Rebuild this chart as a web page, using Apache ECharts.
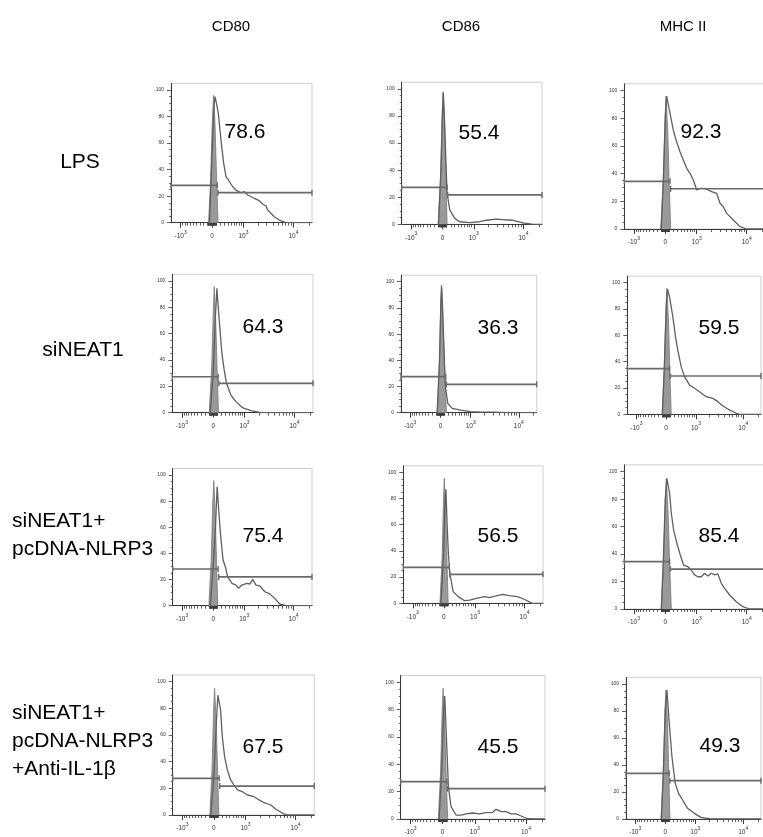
<!DOCTYPE html>
<html><head><meta charset="utf-8">
<script src="https://cdn.jsdelivr.net/npm/echarts@6/dist/echarts.min.js"></script>
<style>html,body{margin:0;padding:0;background:#fff}#c{width:763px;height:837px}</style>
</head><body><div id="c"></div>
<script>
// ---------------- DATA ----------------
const COLUMNS = ['CD80', 'CD86', 'MHC II'];
const ROWS = ['LPS', 'siNEAT1', 'siNEAT1+\npcDNA-NLRP3', 'siNEAT1+\npcDNA-NLRP3\n+Anti-IL-1β'];
const PCT = [[78.6, 55.4, 92.3], [64.3, 36.3, 59.5], [75.4, 56.5, 85.4], [67.5, 45.5, 49.3]];

// gate levels (% of max) and gate split position (display units)
const GATE_LEFT_Y = [[28.2, 27.3, 34.5], [27.3, 27.5, 34.7], [28.1, 27.5, 34.5], [27.5, 27.3, 33.8]];
const GATE_RIGHT_Y = [[22.6, 21.7, 29.1], [22.3, 21.7, 29.1], [22.0, 22.1, 29.1], [21.7, 22.2, 28.4]];
const GATE_X = [[5.3, 4.6, 4.7], [5.0, 5.5, 3.5], [5.0, 5.3, 4.3], [5.3, 4.2, 4.2]];

// axis tick labels
const X_MAJOR = [-1000, 0, 1000, 10000];
const X_TICK_LABELS = [{b: '-10', e: '3'}, {b: '0', e: ''}, {b: '10', e: '3'}, {b: '10', e: '4'}];
const Y_TICKS = [0, 20, 40, 60, 80, 100];

// histograms: [display position, % of max]
const LPS_CD80 = [[-2.5,0],[0,50],[2,88],[3,95],[4.5,90],[6.3,82.4],[8,69.8],[9.7,57.3],[11.7,44.7],[14,34.7],[16.3,32.2],[20.7,27.1],[24,24.6],[25.7,25.9],[29,22.6],[32.3,23.4],[35.7,20.9],[42.3,18.4],[47.3,16.6],[50.7,14.1],[54,12.6],[55.7,9.6],[59,7.1],[62.3,4.5],[67.3,2.0],[74,0],[100,0]];
const LPS_CD86 = [[-4,0],[-1.5,40],[0,82],[0.8,97],[2,78],[3.5,45],[4.6,23],[7.3,10.6],[12.3,4.4],[17.3,1.9],[27.3,1.2],[37.3,1.9],[44,3.0],[54,3.8],[60.6,3.5],[70,3.0],[76,1.9],[82,0.8],[90,0.2],[100,0]];
const LPS_MHC = [[-4,0],[-2,35],[0,80],[1.3,96],[3,90],[4.7,83.7],[8,71.6],[10.7,64.4],[13,59.5],[14.7,55.9],[18,49.9],[21.4,43.9],[24.7,40.3],[28,35.4],[31.4,28.2],[34.7,29.4],[39.7,29.4],[43,28.2],[46.4,27],[51.4,25.8],[54.7,18.6],[58,16.1],[61.4,11.3],[68,6.5],[74.7,1.7],[81.4,0],[100,0]];
const SI_CD80 = [[-3,0],[0,30],[2,70],[3.7,94.4],[6,70.4],[8.7,45],[11,32.4],[13.3,22.3],[17.7,13.4],[22.7,8.4],[29.3,3.8],[37.7,1.5],[47.7,0],[100,0]];
const SI_CD86 = [[-3.4,0],[-1,40],[0.5,85],[1.2,96],[2.5,75],[4,40],[5.2,19.8],[7.6,7.1],[12.2,3.3],[20.8,2.0],[31.2,0.8],[41.6,0.5],[55,0.5],[70,0],[100,0]];
const SI_MHC = [[-4,0],[-2,35],[0,80],[1.4,95],[3.5,89.4],[7,74.2],[9.8,59],[12.2,48.9],[15.8,36.2],[19.3,28.6],[24.6,22.3],[29.9,19.8],[35.1,17.2],[42.2,13.4],[49.2,12.1],[54.5,9.6],[59.8,6.3],[66.8,3.3],[73.8,0.8],[77.3,0],[100,0]];
const NL_CD80 = [[-3,0],[0,30],[2.3,60],[4,91],[5.6,73.2],[7.3,55.4],[10,35],[12.3,29.8],[14.6,22.2],[19,17.1],[23,15.8],[25.6,13.3],[29,15.8],[34,17.1],[37.3,16.6],[40,20.2],[43.3,15.8],[47.3,15.1],[52.3,10.7],[57.3,9],[62.3,5.6],[67.3,1.3],[74,0],[100,0]];
const NL_CD86 = [[-3,0],[-0.5,35],[1,75],[2,87],[3.3,58.5],[4.5,38],[6,22.9],[9.3,8.9],[14.3,5.1],[21,2],[26,2.5],[32.7,3.8],[41,5.1],[46,4.3],[52.7,5.6],[59.3,6.9],[66,5.8],[74.3,5.1],[81,3.1],[89.3,0],[100,0]];
const NL_MHC = [[-4,0],[-2,35],[0,80],[1.6,95],[4.3,84.2],[6,69.7],[8.3,57.5],[11.6,47.8],[15,39.3],[18.3,32],[22.6,30.8],[26,28.4],[29.3,24.8],[32.6,23.5],[36,23.5],[39.3,26],[42.6,24.1],[46,26],[49.3,24.8],[52.6,25.5],[56,18.7],[59.3,15],[64.3,10.2],[71,5.3],[77.6,1.7],[84.3,0],[100,0]];
const AB_CD80 = [[-3,0],[0,30],[2.5,70],[4,90],[6.7,78.8],[8.4,58.7],[10.7,43.7],[13.4,33.8],[16.7,26.3],[20,22.5],[23.4,18.8],[28.4,17.5],[33.4,15],[40,13.7],[45,11.3],[50,9.2],[56.7,7.5],[61.7,4.3],[68.4,1.3],[73.4,0],[100,0]];
const AB_CD86 = [[-3.5,0],[-1,35],[1,78],[2,90],[3.9,55.4],[5.6,23.6],[8.2,9],[13.1,2.9],[18,2.9],[22.9,3.7],[29.3,4.4],[35.9,3.7],[42.4,4.6],[48.9,4.9],[52.2,7.1],[57.1,5.4],[62,5.4],[66.9,3.7],[71.8,3.7],[76.6,2.2],[83.1,0.2],[90,0],[100,0]];
const AB_MHC = [[-4,0],[-2,35],[0,80],[1.7,95.6],[4.2,70.9],[7,46.1],[10.4,26.4],[13.9,19],[18.1,14.1],[23.3,7.9],[30.3,4.2],[37.3,1.2],[47.8,0],[100,0]];

// isotype (filled grey) histograms
const ISO_LPS_CD80 = [[-3.5,0],[-1.5,30],[0,70],[1.5,96],[3,75],[4.5,35],[6,0]];
const ISO_LPS_CD86 = [[-4.4,0],[-2,35],[-0.5,78],[0.6,98],[2,75],[3.5,35],[4.6,0]];
const ISO_LPS_MHC = [[-4.6,0],[-2,35],[-0.3,80],[0.7,96],[2.5,70],[4,30],[5.4,0]];
const ISO_SI_CD80 = [[-4,0],[-1.5,35],[0,75],[1,95.7],[2.5,70],[4,30],[5.3,0]];
const ISO_SI_CD86 = [[-3.4,0],[-1.2,35],[0.2,80],[1,97.5],[2.5,70],[4.5,30],[6.2,0]];
const ISO_SI_MHC = [[-4.2,0],[-2,35],[-0.3,80],[0.7,95.7],[2.5,70],[4,30],[5.3,0]];
const ISO_NL_CD80 = [[-4.4,0],[-2,35],[-0.5,78],[0.6,95.7],[2,72],[3.5,30],[4.6,0]];
const ISO_NL_CD86 = [[-4,0],[-1.8,35],[-0.5,78],[0.3,95.4],[1.8,70],[3.2,30],[4.3,0]];
const ISO_NL_MHC = [[-4,0],[-1.8,35],[0,80],[1,95.2],[2.8,70],[4.5,30],[6,0]];
const ISO_AB_CD80 = [[-4,0],[-1.8,35],[-0.3,78],[0.7,95],[2.3,70],[3.8,30],[5,0]];
const ISO_AB_CD86 = [[-4.2,0],[-2,35],[-0.5,78],[0.4,95.6],[2,70],[3.5,30],[4.9,0]];
const ISO_AB_MHC = [[-4.5,0],[-2,35],[-0.3,80],[0.7,95.6],[2.5,70],[3.8,30],[4.9,0]];

const HIST = [[LPS_CD80, LPS_CD86, LPS_MHC], [SI_CD80, SI_CD86, SI_MHC], [NL_CD80, NL_CD86, NL_MHC], [AB_CD80, AB_CD86, AB_MHC]];
const ISO = [[ISO_LPS_CD80, ISO_LPS_CD86, ISO_LPS_MHC], [ISO_SI_CD80, ISO_SI_CD86, ISO_SI_MHC], [ISO_NL_CD80, ISO_NL_CD86, ISO_NL_MHC], [ISO_AB_CD80, ISO_AB_CD86, ISO_AB_MHC]];

// ---------------- LAYOUT ----------------
const FONT = '"Liberation Sans", Arial, Helvetica, sans-serif';
const LAYOUT = [
  [[171, 83.4, 141, 139.3], [401.7, 82.2, 140.3, 142.1], [624.3, 83.8, 141, 145.2]],
  [[172.3, 274.4, 140.7, 138.3], [401, 275.2, 135.7, 137.5], [627.3, 276.1, 133.7, 138.2]],
  [[172.7, 468.5, 139.3, 137.2], [403.3, 465.8, 139.7, 137.5], [624.3, 464.8, 141, 144.2]],
  [[172.7, 675, 141.6, 140], [400.7, 675.5, 144.3, 143.5], [626, 677.3, 135, 141.7]]
];
const PCT_POS = [
  [[245, 132], [479, 133], [701, 132]],
  [[263, 327], [498, 328], [719, 328]],
  [[263, 536], [498, 536], [719, 536]],
  [[263, 747], [498, 747], [720, 746]]
];
const XMIN = -41, XMAX = 100;
const T = v => 22.3 * Math.asinh(v / 520);   // biexponential display transform
const X_MAJOR_POS = X_MAJOR.map(T);
const X_MINOR_POS = [];
[10, 100].forEach(d => { for (let k = 1; k <= 9; k++) { X_MINOR_POS.push(T(k * d)); X_MINOR_POS.push(T(-k * d)); } });
for (let k = 2; k <= 9; k++) X_MINOR_POS.push(T(k * 1000));
X_MINOR_POS.push(T(20000));
const Y_MINOR = [];
for (let v = 5; v < 100; v += 5) if (v % 20 !== 0) Y_MINOR.push(v);

const grids = [], xAxes = [], yAxes = [], series = [];
const AX = '#3a3a3a';
let gi = 0;
for (let r = 0; r < 4; r++) {
  for (let c = 0; c < 3; c++) {
    const L = LAYOUT[r][c];
    grids.push({left: L[0], top: L[1], width: L[2], height: L[3], containLabel: false, outerBoundsMode: 'none',
      show: true, borderColor: '#cfcfcf', borderWidth: 1, backgroundColor: 'transparent'});
    xAxes.push({
      gridIndex: gi, type: 'value', min: XMIN, max: XMAX, position: 'bottom',
      axisLine: {show: true, onZero: false, lineStyle: {color: AX, width: 1}},
      axisTick: {show: true, customValues: X_MAJOR_POS, length: 5, lineStyle: {color: AX, width: 1}},
      axisLabel: {show: true, customValues: X_MAJOR_POS, margin: 7,
        formatter: v => {
          const i = X_MAJOR_POS.findIndex(p => Math.abs(p - v) < 0.01);
          if (i < 0) return '';
          const t = X_TICK_LABELS[i];
          return t.e ? '{b|' + t.b + '}{s|' + t.e + '}' : '{b|' + t.b + '}';
        },
        rich: {
          b: {fontSize: 6.5, fontFamily: FONT, color: '#333', lineHeight: 10, verticalAlign: 'bottom'},
          s: {fontSize: 5, fontFamily: FONT, color: '#333', lineHeight: 10, verticalAlign: 'top'}
        }},
      splitLine: {show: false}
    });
    xAxes.push({
      gridIndex: gi, type: 'value', min: XMIN, max: XMAX, position: 'bottom',
      axisLine: {show: false, onZero: false},
      axisTick: {show: true, customValues: X_MINOR_POS, length: 3, lineStyle: {color: AX, width: 0.8}},
      axisLabel: {show: false}, splitLine: {show: false}
    });
    yAxes.push({
      gridIndex: gi, type: 'value', min: 0, max: 105, position: 'left',
      axisLine: {show: true, onZero: false, lineStyle: {color: AX, width: 1}},
      axisTick: {show: true, customValues: Y_TICKS, length: 4, lineStyle: {color: AX, width: 0.8}},
      axisLabel: {show: true, customValues: Y_TICKS, margin: 7, fontSize: 5, fontFamily: FONT, color: '#333'},
      splitLine: {show: false}
    });
    yAxes.push({
      gridIndex: gi, type: 'value', min: 0, max: 105, position: 'left',
      axisLine: {show: false, onZero: false},
      axisTick: {show: true, customValues: Y_MINOR, length: 2, lineStyle: {color: AX, width: 0.7}},
      axisLabel: {show: false}, splitLine: {show: false}
    });
    const xi = gi * 2, yi = gi * 2;
    series.push({type: 'line', xAxisIndex: xi, yAxisIndex: yi, data: ISO[r][c], showSymbol: false, symbol: 'none',
      lineStyle: {color: '#777', width: 0.8}, areaStyle: {color: '#999', opacity: 1}, z: 2, silent: true, animation: false});
    series.push({type: 'line', xAxisIndex: xi, yAxisIndex: yi, data: HIST[r][c], showSymbol: false, symbol: 'none',
      lineStyle: {color: '#5f5f5f', width: 1.3}, z: 3, silent: true, animation: false});
    const gx = GATE_X[r][c];
    const gateStyle = {type: 'line', xAxisIndex: xi, yAxisIndex: yi, symbol: 'rect', symbolSize: [1.4, 6], showSymbol: true,
      itemStyle: {color: '#6a6a6a'}, lineStyle: {color: '#6a6a6a', width: 1.7}, z: 4, clip: false, silent: true, animation: false};
    series.push(Object.assign({}, gateStyle, {data: [[XMIN, GATE_LEFT_Y[r][c]], [gx, GATE_LEFT_Y[r][c]]]}));
    series.push(Object.assign({}, gateStyle, {data: [[gx + 0.6, GATE_RIGHT_Y[r][c]], [XMAX, GATE_RIGHT_Y[r][c]]]}));
    gi++;
  }
}

const graphics = [];
const HEADER_X = [231, 461, 683];
COLUMNS.forEach((t, i) => graphics.push({type: 'text', x: HEADER_X[i], y: 27, silent: true,
  style: {text: t, fontSize: 15, fontFamily: FONT, fill: '#000', align: 'center', verticalAlign: 'middle'}}));
// row labels
const ROW_POS = [[80, 162, 'center'], [83, 350, 'center'], [12, 535, 'left'], [12, 741, 'left']];
ROWS.forEach((t, i) => graphics.push({type: 'text', x: ROW_POS[i][0], y: ROW_POS[i][1], silent: true,
  style: {text: t, fontSize: 21, lineHeight: 28, fontFamily: FONT, fill: '#000', align: ROW_POS[i][2], verticalAlign: 'middle'}}));
for (let r = 0; r < 4; r++) for (let c = 0; c < 3; c++) {
  graphics.push({type: 'text', x: PCT_POS[r][c][0], y: PCT_POS[r][c][1], silent: true,
    style: {text: PCT[r][c].toFixed(1), fontSize: 21, fontFamily: FONT, fill: '#000', align: 'center', verticalAlign: 'middle'}});
}

const chart = echarts.init(document.getElementById('c'));
chart.setOption({
  animation: false,
  backgroundColor: '#fff',
  grid: grids, xAxis: xAxes, yAxis: yAxes, series: series,
  graphic: graphics
});
</script></body></html>
